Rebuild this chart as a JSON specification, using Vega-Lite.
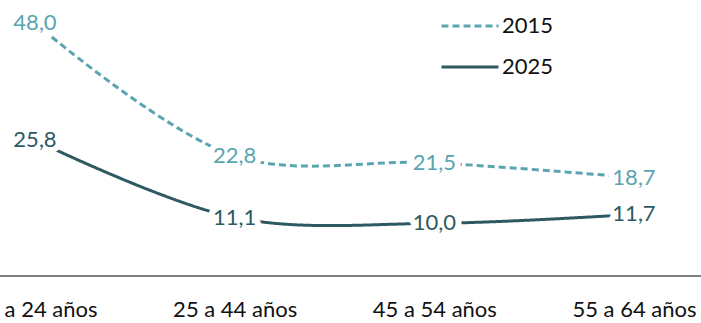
{
  "$schema": "https://vega.github.io/schema/vega-lite/v6.json",
  "width": 701,
  "height": 276,
  "autosize": {"type": "none"},
  "padding": {"left": 0, "top": 0, "right": 0, "bottom": 47},
  "background": "white",
  "config": {
    "view": {"stroke": null},
    "font": "Lato",
    "locale": {"number": {"decimal": ",", "thousands": ".", "grouping": [3], "currency": ["", " €"]}},
    "legend": {
      "orient": "none",
      "legendX": 440,
      "legendY": -4,
      "title": null,
      "symbolType": "stroke",
      "symbolSize": 3249,
      "symbolStrokeWidth": 3,
      "labelFontSize": 22,
      "labelColor": "#111111",
      "labelOffset": 2,
      "rowPadding": -4
    }
  },
  "data": {
    "values": [
      {"grupo": "16 a 24 años", "anio": "2015", "valor": 48.0},
      {"grupo": "25 a 44 años", "anio": "2015", "valor": 22.8},
      {"grupo": "45 a 54 años", "anio": "2015", "valor": 21.5},
      {"grupo": "55 a 64 años", "anio": "2015", "valor": 18.7},
      {"grupo": "16 a 24 años", "anio": "2025", "valor": 25.8},
      {"grupo": "25 a 44 años", "anio": "2025", "valor": 11.1},
      {"grupo": "45 a 54 años", "anio": "2025", "valor": 10.0},
      {"grupo": "55 a 64 años", "anio": "2025", "valor": 11.7}
    ]
  },
  "layer": [
    {
      "mark": {"type": "rule", "color": "#808080", "strokeWidth": 1.5},
      "encoding": {"y": {"datum": 0, "type": "quantitative", "scale": {"domain": [0, 52.4], "nice": false}, "axis": null}}
    },
    {
      "mark": {"type": "line", "interpolate": "catmull-rom", "strokeWidth": 3},
      "encoding": {
        "x": {"field": "grupo", "type": "ordinal", "sort": null, "scale": {"type": "point", "range": [35, 634], "padding": 0},
              "axis": {"title": null, "domain": false, "ticks": false, "grid": false, "labelFontSize": 22, "labelColor": "#111111", "labelPadding": 23, "labelAngle": 0}},
        "y": {"field": "valor", "type": "quantitative", "scale": {"domain": [0, 52.4], "nice": false}, "axis": null},
        "color": {"field": "anio", "type": "nominal", "title": null, "scale": {"domain": ["2015", "2025"], "range": ["#5AA5B0", "#2D5A61"]}},
        "strokeDash": {"field": "anio", "type": "nominal", "title": null, "scale": {"domain": ["2015", "2025"], "range": [[7, 4], [1, 0]]}}
      }
    },
    {
      "mark": {"type": "text", "fontSize": 22, "color": "white", "stroke": "white", "strokeWidth": 12, "strokeJoin": "round"},
      "encoding": {
        "x": {"field": "grupo", "type": "ordinal", "sort": null},
        "y": {"field": "valor", "type": "quantitative"},
        "text": {"field": "valor", "type": "quantitative", "format": ",.1f"}
      }
    },
    {
      "transform": [{"filter": "datum.anio == '2015'"}],
      "mark": {"type": "text", "fontSize": 22, "color": "#5AA5B0"},
      "encoding": {
        "x": {"field": "grupo", "type": "ordinal", "sort": null},
        "y": {"field": "valor", "type": "quantitative"},
        "text": {"field": "valor", "type": "quantitative", "format": ",.1f"}
      }
    },
    {
      "transform": [{"filter": "datum.anio == '2025'"}],
      "mark": {"type": "text", "fontSize": 22, "color": "#2D5A61"},
      "encoding": {
        "x": {"field": "grupo", "type": "ordinal", "sort": null},
        "y": {"field": "valor", "type": "quantitative"},
        "text": {"field": "valor", "type": "quantitative", "format": ",.1f"}
      }
    }
  ]
}
